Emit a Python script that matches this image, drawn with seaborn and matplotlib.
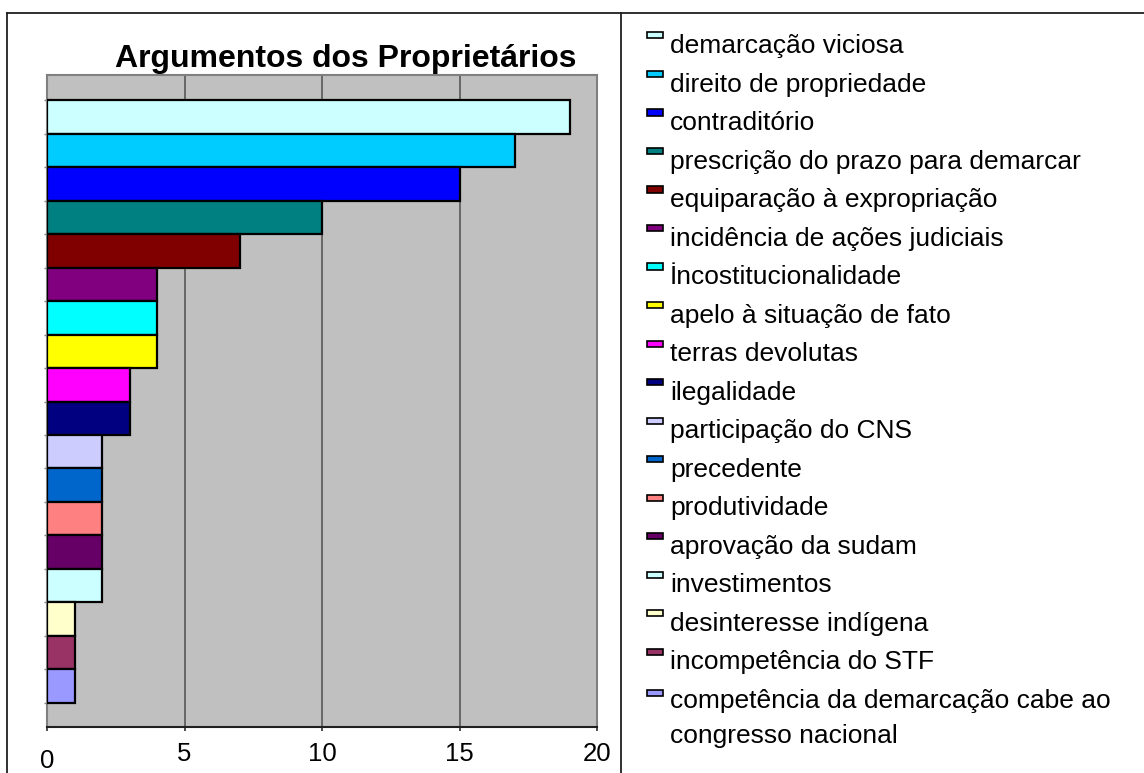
import matplotlib
matplotlib.use("Agg")
import matplotlib.pyplot as plt
from matplotlib.patches import Rectangle
from matplotlib.legend_handler import HandlerPatch
from matplotlib.lines import Line2D
import seaborn as sns
import numpy as np

categories = [
    "demarcação viciosa",
    "direito de propriedade",
    "contraditório",
    "prescrição do prazo para demarcar",
    "equiparação à expropriação",
    "incidência de ações judiciais",
    "İncostitucionalidade",
    "apelo à situação de fato",
    "terras devolutas",
    "ilegalidade",
    "participação do CNS",
    "precedente",
    "produtividade",
    "aprovação da sudam",
    "investimentos",
    "desinteresse indígena",
    "incompetência do STF",
    "competência da demarcação cabe ao\ncongresso nacional",
]
values = [19, 17, 15, 10, 7, 4, 4, 4, 3, 3, 2, 2, 2, 2, 2, 1, 1, 1]
colors = ["#CCFFFF", "#00CCFF", "#0000FF", "#008080", "#800000", "#800080",
          "#00FFFF", "#FFFF00", "#FF00FF", "#000080", "#CCCCFF", "#0066CC",
          "#FF8080", "#660066", "#CCFFFF", "#FFFFCC", "#993366", "#9999FF"]
xticks = [0, 5, 10, 15, 20]
title = "Argumentos dos Proprietários"

plt.rcParams["font.family"] = ["Liberation Sans", "DejaVu Sans"]

W, H = 1144, 773
fig = plt.figure(figsize=(W / 100, H / 100), dpi=100)
fig.patch.set_facecolor("white")

ax = fig.add_axes([47 / W, 1 - 727 / H, 550 / W, 652 / H])
ax.set_facecolor("#C0C0C0")

palette = dict(zip(categories, colors))
sns.barplot(x=values, y=categories, hue=categories, palette=palette,
            saturation=1, dodge=False, orient="h", width=1.0,
            edgecolor="black", linewidth=1.6, legend=True, ax=ax, zorder=3)

handles, labels = ax.get_legend_handles_labels()
if ax.get_legend() is not None:
    ax.get_legend().remove()

ax.set_xlim(0, 20)
ax.set_ylim(17.5 + 0.72, -0.5 - 0.75)
ax.set_xticks(xticks)
ax.set_xticklabels([str(t) for t in xticks], fontsize=18.5)
ax.set_yticks(np.arange(-0.5, 18, 1))
ax.set_yticklabels([])
ax.set_xlabel("")
ax.set_ylabel("")
ax.grid(False)
for xv in xticks[1:-1]:
    ax.axvline(xv, color="#606060", lw=1.3, zorder=1)

for side in ["left", "top", "right"]:
    ax.spines[side].set_color("#808080")
    ax.spines[side].set_linewidth(1.5)
ax.spines["bottom"].set_color("#202020")
ax.spines["bottom"].set_linewidth(1.5)
ax.tick_params(axis="x", direction="out", length=3, width=1.2, color="#303030", pad=8)
ax.tick_params(axis="y", direction="out", length=2.5, width=1.0, color="#808080")
ticks = ax.xaxis.get_major_ticks()
ticks[0].set_pad(13)

fig.text(346 / W, 1 - 67 / H, title, ha="center", va="baseline",
         fontsize=23, fontweight="bold")

fs = 19
last_handle = handles[-1]

def make_patch(legend, orig_handle, xdescent, ydescent, width, height, fontsize):
    y0 = 0.55 * fontsize
    if orig_handle is last_handle:
        y0 += 0.67 * fontsize
    return Rectangle((-xdescent, y0), width, 0.23 * fontsize)

for h, c in zip(handles, colors):
    h.set_facecolor(c)
    h.set_edgecolor("black")
    h.set_linewidth(1.2)

leg = fig.legend(handles, labels, loc="upper left", bbox_to_anchor=(647 / W, 1 - 34 / H),
                 frameon=False, fontsize=fs, handlelength=0.6, handleheight=0.7,
                 handletextpad=0.27, labelspacing=0.55, borderpad=0, borderaxespad=0,
                 handler_map={Rectangle: HandlerPatch(patch_func=make_patch)})
leg.get_texts()[-1].set_linespacing(1.6)

# outer frame lines
def fl(x0, y0, x1, y1):
    fig.add_artist(Line2D([x0 / W, x1 / W], [1 - y0 / H, 1 - y1 / H],
                          color="#202020", lw=1.3, transform=fig.transFigure))
fl(7, 13, W, 13)
fl(7, 13, 7, H)
fl(621, 13, 621, H)

fig.savefig("out.png", dpi=100)
